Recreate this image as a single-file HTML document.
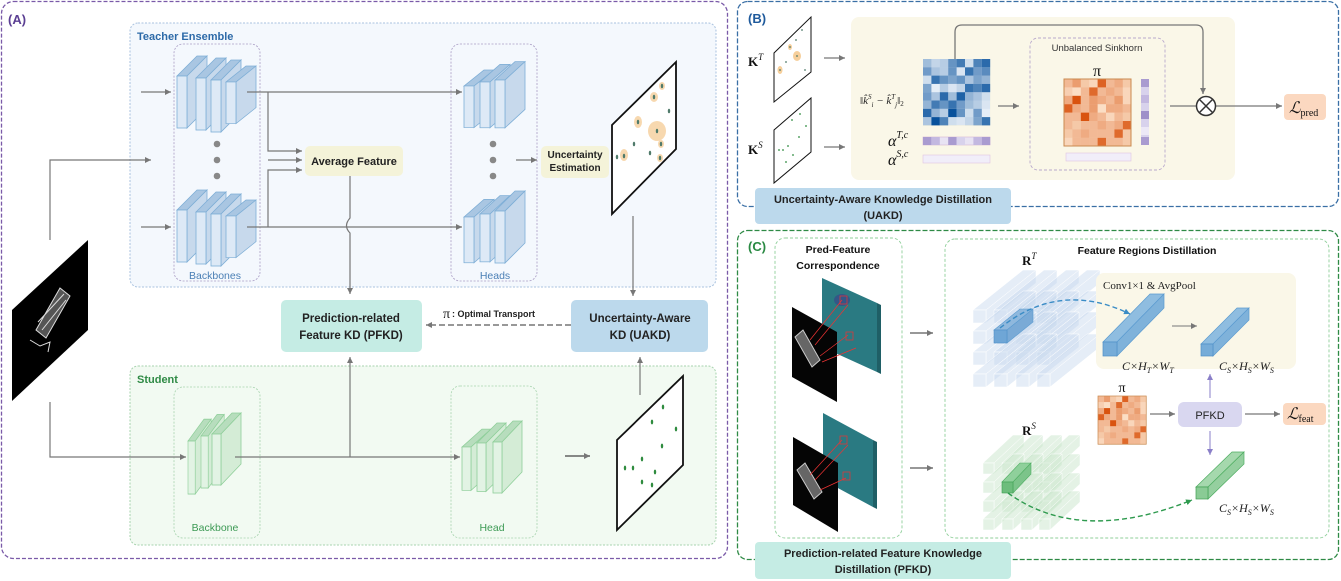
<!DOCTYPE html>
<html><head><meta charset="utf-8"><style>
html,body{margin:0;padding:0;background:#fff;}
svg{display:block;}
text{font-family:"Liberation Sans",sans-serif;}
.s{font-family:"Liberation Serif",serif;}
</style></head><body>
<svg width="1341" height="581" viewBox="0 0 1341 581" xmlns="http://www.w3.org/2000/svg">
<defs>
<marker id="ar" markerWidth="8" markerHeight="8" refX="6" refY="3" orient="auto" markerUnits="userSpaceOnUse"><path d="M0,0 L6,3 L0,6 Z" fill="#777"/></marker>
<marker id="arP" markerWidth="8" markerHeight="8" refX="6" refY="3" orient="auto" markerUnits="userSpaceOnUse"><path d="M0,0 L6,3 L0,6 Z" fill="#8a7fc8"/></marker>
<marker id="arB" markerWidth="9" markerHeight="9" refX="6" refY="3" orient="auto" markerUnits="userSpaceOnUse"><path d="M0,0 L6,3 L0,6 Z" fill="#3a8cc6"/></marker>
<marker id="arG" markerWidth="9" markerHeight="9" refX="6" refY="3" orient="auto" markerUnits="userSpaceOnUse"><path d="M0,0 L6,3 L0,6 Z" fill="#2e9a4e"/></marker>
<g id="slabB" stroke="#7eaed6" stroke-width="0.8">
<polygon points="0,0 20,-20 30,-20 10,0" fill="#a9c6e2"/>
<polygon points="10,0 30,-20 30,32 10,52" fill="#c7d9ec"/>
<rect x="0" y="0" width="10" height="52" fill="#dde9f6"/>
</g>
<g id="slabG" stroke="#8fcf9a" stroke-width="0.8">
<polygon points="0,0 20,-21 29,-21 9,0" fill="#b7ddbd"/>
<polygon points="9,0 29,-21 29,30 9,51" fill="#d4ecd6"/>
<rect x="0" y="0" width="9" height="51" fill="#e2f3e4"/>
</g>
<g id="om">
<rect x="0" y="0" width="67" height="67" fill="#fde6cf"/>
<g fill="#d9530f">
<rect x="0" y="0" width="8.4" height="8.4" fill-opacity=".3"/><rect x="8.4" y="0" width="8.4" height="8.4" fill-opacity=".5"/><rect x="16.8" y="0" width="8.4" height="8.4" fill-opacity=".2"/><rect x="25.2" y="0" width="8.4" height="8.4" fill-opacity=".1"/><rect x="33.6" y="0" width="8.4" height="8.4" fill-opacity=".9"/><rect x="42" y="0" width="8.4" height="8.4" fill-opacity=".3"/><rect x="50.4" y="0" width="8.4" height="8.4" fill-opacity=".4"/><rect x="58.8" y="0" width="8.4" height="8.4" fill-opacity=".2"/>
<rect x="0" y="8.4" width="8.4" height="8.4" fill-opacity=".15"/><rect x="8.4" y="8.4" width="8.4" height="8.4" fill-opacity=".05"/><rect x="16.8" y="8.4" width="8.4" height="8.4" fill-opacity=".3"/><rect x="25.2" y="8.4" width="8.4" height="8.4" fill-opacity=".85"/><rect x="33.6" y="8.4" width="8.4" height="8.4" fill-opacity=".3"/><rect x="42" y="8.4" width="8.4" height="8.4" fill-opacity=".4"/><rect x="50.4" y="8.4" width="8.4" height="8.4" fill-opacity=".3"/><rect x="58.8" y="8.4" width="8.4" height="8.4" fill-opacity=".1"/>
<rect x="0" y="16.8" width="8.4" height="8.4" fill-opacity=".4"/><rect x="8.4" y="16.8" width="8.4" height="8.4" fill-opacity="1"/><rect x="16.8" y="16.8" width="8.4" height="8.4" fill-opacity=".3"/><rect x="25.2" y="16.8" width="8.4" height="8.4" fill-opacity=".5"/><rect x="33.6" y="16.8" width="8.4" height="8.4" fill-opacity=".4"/><rect x="42" y="16.8" width="8.4" height="8.4" fill-opacity=".3"/><rect x="50.4" y="16.8" width="8.4" height="8.4" fill-opacity=".5"/><rect x="58.8" y="16.8" width="8.4" height="8.4" fill-opacity=".1"/>
<rect x="0" y="25.2" width="8.4" height="8.4" fill-opacity=".9"/><rect x="8.4" y="25.2" width="8.4" height="8.4" fill-opacity=".4"/><rect x="16.8" y="25.2" width="8.4" height="8.4" fill-opacity=".3"/><rect x="25.2" y="25.2" width="8.4" height="8.4" fill-opacity=".5"/><rect x="33.6" y="25.2" width="8.4" height="8.4" fill-opacity=".05"/><rect x="42" y="25.2" width="8.4" height="8.4" fill-opacity=".4"/><rect x="50.4" y="25.2" width="8.4" height="8.4" fill-opacity=".4"/><rect x="58.8" y="25.2" width="8.4" height="8.4" fill-opacity=".3"/>
<rect x="0" y="33.6" width="8.4" height="8.4" fill-opacity=".3"/><rect x="8.4" y="33.6" width="8.4" height="8.4" fill-opacity=".3"/><rect x="16.8" y="33.6" width="8.4" height="8.4" fill-opacity="1"/><rect x="25.2" y="33.6" width="8.4" height="8.4" fill-opacity=".4"/><rect x="33.6" y="33.6" width="8.4" height="8.4" fill-opacity=".3"/><rect x="42" y="33.6" width="8.4" height="8.4" fill-opacity=".1"/><rect x="50.4" y="33.6" width="8.4" height="8.4" fill-opacity=".3"/><rect x="58.8" y="33.6" width="8.4" height="8.4" fill-opacity=".2"/>
<rect x="0" y="42" width="8.4" height="8.4" fill-opacity=".3"/><rect x="8.4" y="42" width="8.4" height="8.4" fill-opacity=".2"/><rect x="16.8" y="42" width="8.4" height="8.4" fill-opacity=".3"/><rect x="25.2" y="42" width="8.4" height="8.4" fill-opacity=".3"/><rect x="33.6" y="42" width="8.4" height="8.4" fill-opacity=".4"/><rect x="42" y="42" width="8.4" height="8.4" fill-opacity=".3"/><rect x="50.4" y="42" width="8.4" height="8.4" fill-opacity=".4"/><rect x="58.8" y="42" width="8.4" height="8.4" fill-opacity=".85"/>
<rect x="0" y="50.4" width="8.4" height="8.4" fill-opacity=".2"/><rect x="8.4" y="50.4" width="8.4" height="8.4" fill-opacity=".3"/><rect x="16.8" y="50.4" width="8.4" height="8.4" fill-opacity=".4"/><rect x="25.2" y="50.4" width="8.4" height="8.4" fill-opacity=".3"/><rect x="33.6" y="50.4" width="8.4" height="8.4" fill-opacity=".3"/><rect x="42" y="50.4" width="8.4" height="8.4" fill-opacity=".3"/><rect x="50.4" y="50.4" width="8.4" height="8.4" fill-opacity=".85"/><rect x="58.8" y="50.4" width="8.4" height="8.4" fill-opacity=".2"/>
<rect x="0" y="58.8" width="8.4" height="8.4" fill-opacity=".1"/><rect x="8.4" y="58.8" width="8.4" height="8.4" fill-opacity=".3"/><rect x="16.8" y="58.8" width="8.4" height="8.4" fill-opacity=".3"/><rect x="25.2" y="58.8" width="8.4" height="8.4" fill-opacity=".3"/><rect x="33.6" y="58.8" width="8.4" height="8.4" fill-opacity=".85"/><rect x="42" y="58.8" width="8.4" height="8.4" fill-opacity=".3"/><rect x="50.4" y="58.8" width="8.4" height="8.4" fill-opacity=".3"/><rect x="58.8" y="58.8" width="8.4" height="8.4" fill-opacity=".2"/>
</g>
<rect x="0" y="0" width="67" height="67" fill="none" stroke="#c98a4f" stroke-width="1"/>
</g>
</defs>

<!-- PANEL A -->
<rect x="1.5" y="1.5" width="726" height="557" rx="12" fill="#fff" stroke="#7a5aa8" stroke-width="1.3" stroke-dasharray="4,2"/>
<text x="8" y="24" font-size="13" font-weight="bold" fill="#5b3f93">(A)</text>

<rect x="130" y="23" width="586" height="264" rx="8" fill="#f4f8fd" stroke="#a9c2df" stroke-width="1" stroke-dasharray="2,1.5"/>
<text x="137" y="40" font-size="11" font-weight="bold" fill="#2d6aa8">Teacher Ensemble</text>
<rect x="174" y="44" width="86" height="237" rx="9" fill="none" stroke="#a99cc4" stroke-width="0.8" stroke-dasharray="2,1.5"/>
<rect x="451" y="44" width="86" height="237" rx="9" fill="none" stroke="#a99cc4" stroke-width="0.8" stroke-dasharray="2,1.5"/>
<text x="215" y="279" font-size="10.5" fill="#4a7fb5" text-anchor="middle">Backbones</text>
<text x="495" y="279" font-size="10.5" fill="#4a7fb5" text-anchor="middle">Heads</text>

<!-- student box (drawn early so connectors show on top) -->
<rect x="130" y="366" width="586" height="179" rx="8" fill="#f2faf2" stroke="#a7d3ae" stroke-width="1" stroke-dasharray="2,1.5"/>
<text x="137" y="383" font-size="11" font-weight="bold" fill="#2f8a45">Student</text>
<rect x="174" y="387" width="86" height="151" rx="9" fill="none" stroke="#a7d3ae" stroke-width="0.8" stroke-dasharray="2,1.5"/>
<rect x="451" y="386" width="86" height="152" rx="9" fill="none" stroke="#a7d3ae" stroke-width="0.8" stroke-dasharray="2,1.5"/>
<text x="215" y="531" font-size="10.5" fill="#3d9a55" text-anchor="middle">Backbone</text>
<text x="492" y="531" font-size="10.5" fill="#3d9a55" text-anchor="middle">Head</text>

<use href="#slabB" transform="translate(177,76)"/>
<use href="#slabB" transform="translate(196,78)"/>
<use href="#slabB" transform="translate(211,80)"/>
<use href="#slabB" transform="translate(226,82) scale(1,0.8)"/>
<use href="#slabB" transform="translate(177,210)"/>
<use href="#slabB" transform="translate(196,212)"/>
<use href="#slabB" transform="translate(211,214)"/>
<use href="#slabB" transform="translate(226,216) scale(1,0.8)"/>
<use href="#slabB" transform="translate(464,86) scale(1,0.8)"/>
<use href="#slabB" transform="translate(480,82) scale(1,0.88)"/>
<use href="#slabB" transform="translate(495,80) scale(1,0.92)"/>
<use href="#slabB" transform="translate(464,217) scale(1,0.88)"/>
<use href="#slabB" transform="translate(480,214) scale(1,0.92)"/>
<use href="#slabB" transform="translate(495,211)"/>

<use href="#slabG" transform="translate(188,441) scale(0.8,1.04)"/>
<use href="#slabG" transform="translate(201,436) scale(0.8,1.02)"/>
<use href="#slabG" transform="translate(212,434)"/>
<use href="#slabG" transform="translate(462,447) scale(1,0.85)"/>
<use href="#slabG" transform="translate(477,443) scale(1,0.95)"/>
<use href="#slabG" transform="translate(493,442)"/>

<g fill="#888"><circle cx="217" cy="144" r="3.3"/><circle cx="217" cy="160" r="3.3"/><circle cx="217" cy="176" r="3.3"/>
<circle cx="493" cy="144" r="3.3"/><circle cx="493" cy="160" r="3.3"/><circle cx="493" cy="176" r="3.3"/></g>

<g stroke="#777" stroke-width="1.2" fill="none">
<line x1="141" y1="92" x2="171" y2="92" marker-end="url(#ar)"/>
<line x1="141" y1="227" x2="171" y2="227" marker-end="url(#ar)"/>
<line x1="247" y1="92" x2="462" y2="92" marker-end="url(#ar)"/>
<path d="M247,227 H462" marker-end="url(#ar)"/>
<polyline points="268,92 268,151 302,151" marker-end="url(#ar)"/>
<line x1="268" y1="160" x2="302" y2="160" marker-end="url(#ar)"/>
<polyline points="268,227 268,170 302,170" marker-end="url(#ar)"/>
<path d="M350,176 V218 Q343,226 350,233 V294" marker-end="url(#ar)"/>
<line x1="516" y1="160" x2="537" y2="160" marker-end="url(#ar)"/>
<line x1="633" y1="216" x2="633" y2="296" marker-end="url(#ar)"/>
<polyline points="50,240 50,160 151,160" marker-end="url(#ar)"/>
<polyline points="50,402 50,457 186,457" marker-end="url(#ar)"/>
<line x1="235" y1="457" x2="460" y2="457" marker-end="url(#ar)"/>
<line x1="350" y1="457" x2="350" y2="357" marker-end="url(#ar)"/>
<line x1="640" y1="395" x2="640" y2="357" marker-end="url(#ar)"/>
<line x1="565" y1="456" x2="590" y2="456" stroke-width="1.8" marker-end="url(#ar)"/>
<line x1="571" y1="325" x2="426" y2="325" stroke-dasharray="6,3" stroke-width="1.4" marker-end="url(#ar)"/>
</g>

<rect x="305" y="146" width="98" height="30" rx="5" fill="#f4f3d9"/>
<text x="354" y="165" font-size="11" font-weight="bold" fill="#222" text-anchor="middle">Average Feature</text>
<rect x="541" y="146" width="68" height="32" rx="5" fill="#f4f3d9"/>
<text x="575" y="158" font-size="10" font-weight="bold" fill="#222" text-anchor="middle">Uncertainty</text>
<text x="575" y="171" font-size="10" font-weight="bold" fill="#222" text-anchor="middle">Estimation</text>

<!-- teacher map -->
<polygon points="612,125 676,62 676,149 612,214" fill="#fff" stroke="#111" stroke-width="1.8"/>
<g fill="#f6cf9c" opacity=".8"><ellipse cx="657" cy="131" rx="9" ry="10"/><ellipse cx="638" cy="122" rx="4" ry="6"/><ellipse cx="654" cy="97" rx="4" ry="5"/><ellipse cx="662" cy="86" rx="3" ry="4"/><ellipse cx="624" cy="155" rx="4" ry="6"/><ellipse cx="661" cy="144" rx="3" ry="4"/><ellipse cx="660" cy="158" rx="3" ry="4"/></g>
<g fill="#4f7a6a"><ellipse cx="662" cy="86" rx="1.2" ry="2.3"/><ellipse cx="654" cy="97" rx="1.2" ry="2.3"/><ellipse cx="669" cy="111" rx="1.2" ry="2.3"/><ellipse cx="638" cy="122" rx="1.2" ry="2.3"/><ellipse cx="657" cy="131" rx="1.2" ry="2.3"/><ellipse cx="634" cy="144" rx="1.2" ry="2.3"/><ellipse cx="661" cy="144" rx="1.2" ry="2.3"/><ellipse cx="650" cy="153" rx="1.2" ry="2.3"/><ellipse cx="624" cy="156" rx="1.2" ry="2.3"/><ellipse cx="617" cy="157" rx="1.2" ry="2.3"/><ellipse cx="660" cy="158" rx="1.2" ry="2.3"/></g>

<!-- input image -->
<polygon points="12,310 88,240 88,330 12,401" fill="#000"/>
<g stroke="#ddd" stroke-width="1" fill="none"><polygon points="36,330 60,288 70,296 46,338" fill="#555"/><line x1="38" y1="322" x2="64" y2="294"/><line x1="42" y1="330" x2="66" y2="300"/><polyline points="30,340 40,346 50,342 48,352"/></g>

<!-- boxes -->
<rect x="281" y="300" width="141" height="52" rx="5" fill="#c5ece4"/>
<text x="351" y="322" font-size="11.5" font-weight="bold" fill="#222" text-anchor="middle">Prediction-related</text>
<text x="351" y="339" font-size="11.5" font-weight="bold" fill="#222" text-anchor="middle">Feature KD (PFKD)</text>
<rect x="571" y="300" width="137" height="52" rx="5" fill="#bcd9ec"/>
<text x="640" y="322" font-size="11.5" font-weight="bold" fill="#222" text-anchor="middle">Uncertainty-Aware</text>
<text x="640" y="339" font-size="11.5" font-weight="bold" fill="#222" text-anchor="middle">KD  (UAKD)</text>
<text x="443" y="318" font-size="14" class="s" fill="#222">π</text>
<text x="452" y="317" font-size="9" font-weight="bold" fill="#222">: Optimal Transport</text>

<polygon points="617,440 683,376 683,465 617,530" fill="#fff" stroke="#111" stroke-width="1.8"/>
<g fill="#2e8b3e"><ellipse cx="663" cy="407" rx="1.2" ry="2.4"/><ellipse cx="652" cy="422" rx="1.2" ry="2.4"/><ellipse cx="676" cy="429" rx="1.2" ry="2.4"/><ellipse cx="662" cy="446" rx="1.2" ry="2.4"/><ellipse cx="642" cy="459" rx="1.2" ry="2.4"/><ellipse cx="625" cy="468" rx="1.2" ry="2.4"/><ellipse cx="633" cy="468" rx="1.2" ry="2.4"/><ellipse cx="655" cy="472" rx="1.2" ry="2.4"/><ellipse cx="642" cy="482" rx="1.2" ry="2.4"/><ellipse cx="652" cy="485" rx="1.2" ry="2.4"/></g>

<!-- PANEL B -->
<rect x="737.5" y="1.5" width="601" height="205" rx="10" fill="#fff" stroke="#3a6fa5" stroke-width="1.3" stroke-dasharray="5,2"/>
<text x="748" y="23" font-size="13" font-weight="bold" fill="#1f5a9c">(B)</text>
<polygon points="774,53 811,17 811,72 774,102" fill="#fff" stroke="#111" stroke-width="1"/>
<g fill="#f6cf9c"><ellipse cx="797" cy="56" rx="4" ry="5"/><ellipse cx="780" cy="70" rx="2.5" ry="4"/><ellipse cx="790" cy="47" rx="2" ry="3"/></g>
<g fill="#4f7a6a"><circle cx="802" cy="30" r="0.9"/><circle cx="796" cy="40" r="0.9"/><circle cx="790" cy="47" r="0.9"/><circle cx="797" cy="56" r="0.9"/><circle cx="786" cy="62" r="0.9"/><circle cx="780" cy="70" r="0.9"/><circle cx="805" cy="70" r="0.9"/></g>
<polygon points="774,130 811,98 811,152 774,183" fill="#fff" stroke="#111" stroke-width="1"/>
<g fill="#2e8b3e"><circle cx="800" cy="114" r="0.9"/><circle cx="792" cy="120" r="0.9"/><circle cx="806" cy="126" r="0.9"/><circle cx="799" cy="137" r="0.9"/><circle cx="788" cy="146" r="0.9"/><circle cx="779" cy="150" r="0.9"/><circle cx="783" cy="150" r="0.9"/><circle cx="793" cy="155" r="0.9"/><circle cx="786" cy="162" r="0.9"/></g>
<text x="748" y="66" font-size="13" class="s" font-weight="bold" fill="#111">K<tspan font-size="9" dy="-6" font-style="italic" font-weight="normal">T</tspan></text>
<text x="748" y="154" font-size="13" class="s" font-weight="bold" fill="#111">K<tspan font-size="9" dy="-6" font-style="italic" font-weight="normal">S</tspan></text>
<g stroke="#777" stroke-width="1.2" fill="none">
<line x1="824" y1="58" x2="845" y2="58" marker-end="url(#ar)"/>
<line x1="824" y1="147" x2="845" y2="147" marker-end="url(#ar)"/>
</g>
<rect x="851" y="17" width="384" height="163" rx="8" fill="#faf7e8"/>
<rect x="1030" y="38" width="135" height="132" rx="8" fill="none" stroke="#b8a8cc" stroke-width="0.9" stroke-dasharray="3,2"/>
<text x="1097" y="51" font-size="9.5" fill="#333" text-anchor="middle">Unbalanced Sinkhorn</text>
<text x="1097" y="76" font-size="16" class="s" fill="#111" text-anchor="middle">π</text>
<!-- blue matrix -->
<g transform="translate(923,59)">
<rect width="67" height="66" fill="#f2f7fc"/>
<g fill="#08519c">
<rect x="0" y="0" width="8.4" height="8.3" fill-opacity=".35"/><rect x="8.4" y="0" width="8.4" height="8.3" fill-opacity=".2"/><rect x="16.8" y="0" width="8.4" height="8.3" fill-opacity=".25"/><rect x="25.2" y="0" width="8.4" height="8.3" fill-opacity=".6"/><rect x="33.6" y="0" width="8.4" height="8.3" fill-opacity=".75"/><rect x="42" y="0" width="8.4" height="8.3" fill-opacity=".15"/><rect x="50.4" y="0" width="8.4" height="8.3" fill-opacity=".7"/><rect x="58.8" y="0" width="8.4" height="8.3" fill-opacity=".85"/>
<rect x="0" y="8.3" width="8.4" height="8.3" fill-opacity=".55"/><rect x="8.4" y="8.3" width="8.4" height="8.3" fill-opacity=".3"/><rect x="16.8" y="8.3" width="8.4" height="8.3" fill-opacity=".25"/><rect x="25.2" y="8.3" width="8.4" height="8.3" fill-opacity=".6"/><rect x="33.6" y="8.3" width="8.4" height="8.3" fill-opacity=".1"/><rect x="42" y="8.3" width="8.4" height="8.3" fill-opacity=".8"/><rect x="50.4" y="8.3" width="8.4" height="8.3" fill-opacity=".55"/><rect x="58.8" y="8.3" width="8.4" height="8.3" fill-opacity=".65"/>
<rect x="0" y="16.6" width="8.4" height="8.3" fill-opacity=".15"/><rect x="8.4" y="16.6" width="8.4" height="8.3" fill-opacity=".8"/><rect x="16.8" y="16.6" width="8.4" height="8.3" fill-opacity=".6"/><rect x="25.2" y="16.6" width="8.4" height="8.3" fill-opacity=".5"/><rect x="33.6" y="16.6" width="8.4" height="8.3" fill-opacity=".6"/><rect x="42" y="16.6" width="8.4" height="8.3" fill-opacity=".3"/><rect x="50.4" y="16.6" width="8.4" height="8.3" fill-opacity=".5"/><rect x="58.8" y="16.6" width="8.4" height="8.3" fill-opacity=".4"/>
<rect x="0" y="24.9" width="8.4" height="8.3" fill-opacity=".5"/><rect x="8.4" y="24.9" width="8.4" height="8.3" fill-opacity=".05"/><rect x="16.8" y="24.9" width="8.4" height="8.3" fill-opacity=".25"/><rect x="25.2" y="24.9" width="8.4" height="8.3" fill-opacity=".1"/><rect x="33.6" y="24.9" width="8.4" height="8.3" fill-opacity=".2"/><rect x="42" y="24.9" width="8.4" height="8.3" fill-opacity=".8"/><rect x="50.4" y="24.9" width="8.4" height="8.3" fill-opacity=".7"/><rect x="58.8" y="24.9" width="8.4" height="8.3" fill-opacity=".85"/>
<rect x="0" y="33.2" width="8.4" height="8.3" fill-opacity=".55"/><rect x="8.4" y="33.2" width="8.4" height="8.3" fill-opacity=".3"/><rect x="16.8" y="33.2" width="8.4" height="8.3" fill-opacity=".85"/><rect x="25.2" y="33.2" width="8.4" height="8.3" fill-opacity=".35"/><rect x="33.6" y="33.2" width="8.4" height="8.3" fill-opacity=".9"/><rect x="42" y="33.2" width="8.4" height="8.3" fill-opacity=".4"/><rect x="50.4" y="33.2" width="8.4" height="8.3" fill-opacity=".3"/><rect x="58.8" y="33.2" width="8.4" height="8.3" fill-opacity=".15"/>
<rect x="0" y="41.5" width="8.4" height="8.3" fill-opacity=".4"/><rect x="8.4" y="41.5" width="8.4" height="8.3" fill-opacity=".75"/><rect x="16.8" y="41.5" width="8.4" height="8.3" fill-opacity=".6"/><rect x="25.2" y="41.5" width="8.4" height="8.3" fill-opacity=".8"/><rect x="33.6" y="41.5" width="8.4" height="8.3" fill-opacity=".55"/><rect x="42" y="41.5" width="8.4" height="8.3" fill-opacity=".35"/><rect x="50.4" y="41.5" width="8.4" height="8.3" fill-opacity=".25"/><rect x="58.8" y="41.5" width="8.4" height="8.3" fill-opacity=".1"/>
<rect x="0" y="49.8" width="8.4" height="8.3" fill-opacity=".85"/><rect x="8.4" y="49.8" width="8.4" height="8.3" fill-opacity=".4"/><rect x="16.8" y="49.8" width="8.4" height="8.3" fill-opacity=".25"/><rect x="25.2" y="49.8" width="8.4" height="8.3" fill-opacity="1"/><rect x="33.6" y="49.8" width="8.4" height="8.3" fill-opacity=".6"/><rect x="42" y="49.8" width="8.4" height="8.3" fill-opacity=".15"/><rect x="50.4" y="49.8" width="8.4" height="8.3" fill-opacity=".55"/><rect x="58.8" y="49.8" width="8.4" height="8.3" fill-opacity=".05"/>
<rect x="0" y="58.1" width="8.4" height="8.3" fill-opacity=".3"/><rect x="8.4" y="58.1" width="8.4" height="8.3" fill-opacity="1"/><rect x="16.8" y="58.1" width="8.4" height="8.3" fill-opacity=".7"/><rect x="25.2" y="58.1" width="8.4" height="8.3" fill-opacity=".15"/><rect x="33.6" y="58.1" width="8.4" height="8.3" fill-opacity=".1"/><rect x="42" y="58.1" width="8.4" height="8.3" fill-opacity=".2"/><rect x="50.4" y="58.1" width="8.4" height="8.3" fill-opacity=".5"/><rect x="58.8" y="58.1" width="8.4" height="8.3" fill-opacity=".8"/>
</g></g>
<text x="860" y="104" font-size="11" class="s" font-style="italic" fill="#222">‖k̂<tspan font-size="7" dy="-5">S</tspan><tspan font-size="7" dy="8">i</tspan><tspan dy="-3"> − k̂</tspan><tspan font-size="7" dy="-5">T</tspan><tspan font-size="7" dy="8">j</tspan><tspan dy="-3">‖</tspan><tspan font-size="7" dy="2" font-style="normal">2</tspan></text>
<text x="888" y="146" font-size="16" class="s" font-style="italic" fill="#111">α<tspan font-size="10" dy="-8">T,c</tspan></text>
<text x="888" y="165" font-size="16" class="s" font-style="italic" fill="#111">α<tspan font-size="10" dy="-8">S,c</tspan></text>
<g transform="translate(923,137)"><rect width="67" height="8" fill="#e8e3f3" stroke="#d6b4d6" stroke-width=".6"/>
<rect x="0" width="8.4" height="8" fill="#a99bd0"/><rect x="8.4" width="8.4" height="8" fill="#c3b8e0"/><rect x="25.2" width="8.4" height="8" fill="#a99bd0"/><rect x="33.6" width="8.4" height="8" fill="#d8d2ec"/><rect x="50.4" width="8.4" height="8" fill="#c3b8e0"/><rect x="58.8" width="8.4" height="8" fill="#a99bd0"/></g>
<rect x="923" y="155" width="67" height="8" fill="#f1eef9" stroke="#e0c4e0" stroke-width=".6"/>
<line x1="998" y1="106" x2="1019" y2="106" stroke="#777" stroke-width="1.2" marker-end="url(#ar)"/>
<use href="#om" transform="translate(1064,79)"/>
<g transform="translate(1141,79)"><rect width="8" height="66" fill="#d8d2ec"/><rect y="0" width="8" height="8" fill="#a99bd0"/><rect y="16" width="8" height="8" fill="#c3b8e0"/><rect y="32" width="8" height="8" fill="#9f90c9"/><rect y="48" width="8" height="8" fill="#ece8f6"/><rect y="58" width="8" height="8" fill="#a99bd0"/></g>
<rect x="1066" y="153" width="65" height="8" fill="#f1eef9" stroke="#e0c4e0" stroke-width=".6"/>
<g stroke="#777" stroke-width="1.3" fill="none">
<path d="M955,59 V32 Q955,25 962,25 H1196 Q1203,25 1203,32 V94" marker-end="url(#ar)"/>
<line x1="1170" y1="106" x2="1196" y2="106"/>
<line x1="1216" y1="106" x2="1282" y2="106" marker-end="url(#ar)"/>
</g>
<circle cx="1206" cy="106" r="9.5" fill="#fff" stroke="#333" stroke-width="1.5"/>
<path d="M1199.5,99.5 L1212.5,112.5 M1212.5,99.5 L1199.5,112.5" stroke="#333" stroke-width="1.5"/>
<rect x="1284" y="94" width="42" height="26" rx="4" fill="#fbd8c0"/>
<text x="1289" y="113" font-size="16" class="s" font-style="italic" fill="#111">ℒ<tspan font-size="10" font-style="normal" dy="3">pred</tspan></text>
<rect x="755" y="188" width="256" height="36" rx="4" fill="#bcd9ec"/>
<text x="883" y="203" font-size="11" font-weight="bold" fill="#222" text-anchor="middle">Uncertainty-Aware Knowledge Distillation</text>
<text x="883" y="219" font-size="11" font-weight="bold" fill="#222" text-anchor="middle">(UAKD)</text>

<!-- PANEL C -->
<rect x="737.5" y="230.5" width="601" height="329" rx="10" fill="#fff" stroke="#2e8a45" stroke-width="1.3" stroke-dasharray="5,2"/>
<text x="748" y="251" font-size="13" font-weight="bold" fill="#2a8a43">(C)</text>
<rect x="775" y="238" width="127" height="300" rx="10" fill="none" stroke="#8fcf9a" stroke-width=".9" stroke-dasharray="3,2"/>
<text x="838" y="253" font-size="10.5" font-weight="bold" fill="#111" text-anchor="middle">Pred-Feature</text>
<text x="838" y="269" font-size="10.5" font-weight="bold" fill="#111" text-anchor="middle">Correspondence</text>
<polygon points="822,278 877,303 877,372 822,347" fill="#2a7a82"/>
<polygon points="877,303 881,305 881,374 877,372" fill="#1f5f66"/>
<ellipse cx="842" cy="300" rx="8" ry="6" fill="#3a3f8a" opacity=".6"/>
<polygon points="792,307 837,332 837,402 792,377" fill="#050505"/>
<g stroke="#ccc" stroke-width="1" fill="#666"><polygon points="795,337 803,330 820,360 812,367"/></g>
<g stroke="#e33" stroke-width=".7" fill="none"><path d="M810,340 L842,300 M815,345 L848,305 M820,356 L848,335 M822,362 L856,348"/><rect x="840" y="296" width="7" height="8"/><rect x="846" y="332" width="7" height="8"/></g>
<polygon points="823,413 873,440 873,507 823,480" fill="#2a7a82"/>
<polygon points="873,440 877,442 877,509 873,507" fill="#1f5f66"/>
<polygon points="793,437 838,463 838,532 793,505" fill="#050505"/>
<g stroke="#ccc" stroke-width="1" fill="#666"><polygon points="797,470 805,463 822,492 814,499"/></g>
<g stroke="#e33" stroke-width=".7" fill="none"><path d="M810,475 L842,440 M815,480 L848,445 M820,490 L846,478"/><rect x="840" y="436" width="7" height="8"/><rect x="843" y="472" width="7" height="8"/></g>
<g stroke="#777" stroke-width="1.5" fill="none">
<line x1="910" y1="333" x2="933" y2="333" marker-end="url(#ar)"/>
<line x1="910" y1="468" x2="933" y2="468" marker-end="url(#ar)"/>
</g>
<rect x="945" y="239" width="384" height="299" rx="10" fill="none" stroke="#8fcf9a" stroke-width=".9" stroke-dasharray="3,2"/>
<text x="1147" y="254" font-size="10.5" font-weight="bold" fill="#111" text-anchor="middle">Feature Regions Distillation</text>
<text x="1022" y="265" font-size="13" class="s" font-weight="bold" fill="#111">R<tspan font-size="9" dy="-6" font-style="italic" font-weight="normal">T</tspan></text>
<text x="1022" y="435" font-size="13" class="s" font-weight="bold" fill="#111">R<tspan font-size="9" dy="-6" font-style="italic" font-weight="normal">S</tspan></text>

<!-- R^T grid -->
<g fill="#c6d8ee" fill-opacity=".45" stroke="#fff" stroke-width=".5">
<g id="rtrow">
<polygon points="973,310 1023,270 1036,270 986,310"/><polygon points="986,310 1036,270 1036,283 986,323"/><rect x="973" y="310" width="13" height="13"/>
<polygon points="994,310 1044,270 1057,270 1007,310"/><polygon points="1007,310 1057,270 1057,283 1007,323"/><rect x="994" y="310" width="13" height="13"/>
<polygon points="1016,310 1066,270 1079,270 1029,310"/><polygon points="1029,310 1079,270 1079,283 1029,323"/><rect x="1016" y="310" width="13" height="13"/>
<polygon points="1037,310 1087,270 1100,270 1050,310"/><polygon points="1050,310 1100,270 1100,283 1050,323"/><rect x="1037" y="310" width="13" height="13"/>
</g>
<use href="#rtrow" transform="translate(0,21)"/>
<use href="#rtrow" transform="translate(0,42)"/>
<use href="#rtrow" transform="translate(0,64)"/>
</g>
<polygon points="994,330 1020,309 1033,309 1007,330" fill="#8fb8dd" stroke="#5b9bd0" stroke-width=".6"/>
<polygon points="1007,330 1033,309 1033,322 1007,343" fill="#7aaad6" stroke="#5b9bd0" stroke-width=".6"/>
<rect x="994" y="330" width="13" height="13" fill="#6fa6d6" stroke="#4f8fc7" stroke-width=".6"/>

<!-- R^S grid -->
<g fill="#c9e6cc" fill-opacity=".5" stroke="#fff" stroke-width=".5">
<g id="rsrow">
<polygon points="983,463 1013,435 1024,435 994,463"/><polygon points="994,463 1024,435 1024,446 994,474"/><rect x="983" y="463" width="11" height="11"/>
<polygon points="1002,463 1032,435 1043,435 1013,463"/><polygon points="1013,463 1043,435 1043,446 1013,474"/><rect x="1002" y="463" width="11" height="11"/>
<polygon points="1021,463 1051,435 1062,435 1032,463"/><polygon points="1032,463 1062,435 1062,446 1032,474"/><rect x="1021" y="463" width="11" height="11"/>
<polygon points="1039,463 1069,435 1080,435 1050,463"/><polygon points="1050,463 1080,435 1080,446 1050,474"/><rect x="1039" y="463" width="11" height="11"/>
</g>
<use href="#rsrow" transform="translate(0,19)"/>
<use href="#rsrow" transform="translate(0,38)"/>
<use href="#rsrow" transform="translate(0,56)"/>
</g>
<polygon points="1002,482 1020,463 1031,463 1013,482" fill="#8fd09b" stroke="#4fae62" stroke-width=".6"/>
<polygon points="1013,482 1031,463 1031,474 1013,493" fill="#7cc48a" stroke="#4fae62" stroke-width=".6"/>
<rect x="1002" y="482" width="11" height="11" fill="#6dbd7c" stroke="#3f9e52" stroke-width=".6"/>

<rect x="1096" y="273" width="200" height="96" rx="8" fill="#faf7e8"/>
<text x="1103" y="289" font-size="11" class="s" fill="#222">Conv1×1  &amp;  AvgPool</text>
<polygon points="1103,342 1150,294 1164,294 1117,342" fill="#8fbde0" stroke="#5b9bd0" stroke-width=".7"/>
<polygon points="1117,342 1164,294 1164,308 1117,356" fill="#7fb2da" stroke="#5b9bd0" stroke-width=".7"/>
<rect x="1103" y="342" width="14" height="14" fill="#76acd8" stroke="#4f8fc7" stroke-width=".7"/>
<line x1="1172" y1="326" x2="1197" y2="326" stroke="#777" stroke-width="1" marker-end="url(#ar)"/>
<polygon points="1201,344 1237,308 1249,308 1213,344" fill="#8fbde0" stroke="#5b9bd0" stroke-width=".7"/>
<polygon points="1213,344 1249,308 1249,320 1213,356" fill="#7fb2da" stroke="#5b9bd0" stroke-width=".7"/>
<rect x="1201" y="344" width="12" height="12" fill="#76acd8" stroke="#4f8fc7" stroke-width=".7"/>
<text x="1122" y="370" font-size="12" class="s" font-style="italic" fill="#222">C×H<tspan font-size="8" dy="3">T</tspan><tspan dy="-3">×W</tspan><tspan font-size="8" dy="3">T</tspan></text>
<text x="1219" y="370" font-size="12" class="s" font-style="italic" fill="#222">C<tspan font-size="8" dy="3">S</tspan><tspan dy="-3">×H</tspan><tspan font-size="8" dy="3">S</tspan><tspan dy="-3">×W</tspan><tspan font-size="8" dy="3">S</tspan></text>
<path d="M1000,328 Q1060,280 1130,314" stroke="#3a8cc6" stroke-width="1.4" fill="none" stroke-dasharray="5,3" marker-end="url(#arB)"/>
<path d="M1008,493 Q1080,545 1192,500" stroke="#2e9a4e" stroke-width="1.4" fill="none" stroke-dasharray="5,3" marker-end="url(#arG)"/>

<text x="1122" y="392" font-size="14" class="s" fill="#111" text-anchor="middle">π</text>
<use href="#om" transform="translate(1098,396) scale(0.72)"/>
<line x1="1150" y1="414" x2="1175" y2="414" stroke="#777" stroke-width="1.3" marker-end="url(#ar)"/>
<rect x="1178" y="402" width="64" height="25" rx="6" fill="#d9d7f0"/>
<text x="1210" y="419" font-size="11" fill="#222" text-anchor="middle">PFKD</text>
<line x1="1245" y1="414" x2="1280" y2="414" stroke="#777" stroke-width="1.3" marker-end="url(#ar)"/>
<rect x="1283" y="403" width="43" height="22" rx="4" fill="#fbd8c0"/>
<text x="1287" y="419" font-size="16" class="s" font-style="italic" fill="#111">ℒ<tspan font-size="10" font-style="normal" dy="3">feat</tspan></text>
<line x1="1210" y1="398" x2="1210" y2="374" stroke="#8a7fc8" stroke-width="1" marker-end="url(#arP)"/>
<line x1="1210" y1="431" x2="1210" y2="455" stroke="#8a7fc8" stroke-width="1" marker-end="url(#arP)"/>
<polygon points="1196,487 1232,452 1244,452 1208,487" fill="#a5d8ad" stroke="#4fae62" stroke-width=".7"/>
<polygon points="1208,487 1244,452 1244,464 1208,499" fill="#95cf9f" stroke="#4fae62" stroke-width=".7"/>
<rect x="1196" y="487" width="12" height="12" fill="#8acb95" stroke="#3f9e52" stroke-width=".7"/>
<text x="1219" y="512" font-size="12" class="s" font-style="italic" fill="#222">C<tspan font-size="8" dy="3">S</tspan><tspan dy="-3">×H</tspan><tspan font-size="8" dy="3">S</tspan><tspan dy="-3">×W</tspan><tspan font-size="8" dy="3">S</tspan></text>

<rect x="755" y="542" width="256" height="37" rx="4" fill="#c5ece4"/>
<text x="883" y="557" font-size="11" font-weight="bold" fill="#222" text-anchor="middle">Prediction-related Feature Knowledge</text>
<text x="883" y="573" font-size="11" font-weight="bold" fill="#222" text-anchor="middle">Distillation (PFKD)</text>
</svg>
</body></html>
